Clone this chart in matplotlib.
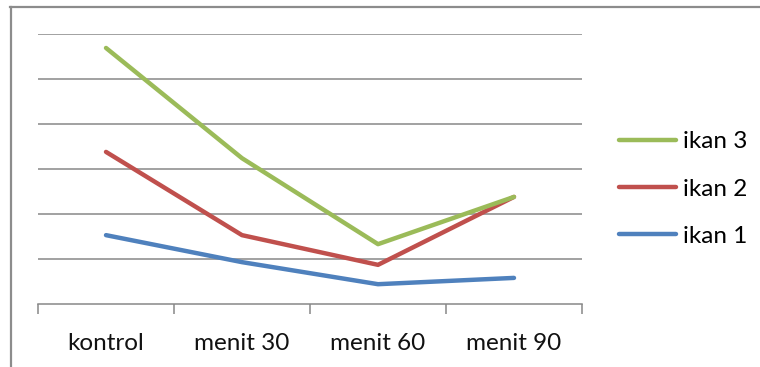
import matplotlib
matplotlib.use("Agg")
import matplotlib.pyplot as plt
from matplotlib.lines import Line2D

categories = ["kontrol", "menit 30", "menit 60", "menit 90"]
ikan1 = [1.53, 0.93, 0.44, 0.58]
ikan2 = [3.38, 1.53, 0.87, 2.38]
ikan3 = [5.69, 3.24, 1.33, 2.38]
series_names = ["ikan 1", "ikan 2", "ikan 3"]
colors = ["#4F81BD", "#C0504D", "#9BBB59"]

W, H = 760, 367
FS = 17.5
fig = plt.figure(figsize=(W / 100, H / 100), dpi=100)
plt.rcParams["font.family"] = ["Lato", "DejaVu Sans"]

# outer chart border (left and top visible)
fig.add_artist(Line2D([10.5 / W, 10.5 / W], [0, 1 - 6.5 / H], color="#8c8c8c", lw=1.6, transform=fig.transFigure))
fig.add_artist(Line2D([10 / W, 1], [1 - 6.5 / H, 1 - 6.5 / H], color="#8c8c8c", lw=1.6, transform=fig.transFigure))

left, right, top, bottom = 38, 582, 34, 304
ax = fig.add_axes([left / W, 1 - bottom / H, (right - left) / W, (bottom - top) / H])

x = list(range(len(categories)))
for vals, name, c in zip([ikan1, ikan2, ikan3], series_names, colors):
    ax.plot(x, vals, color=c, lw=3.2, solid_capstyle="round", solid_joinstyle="round", label=name, zorder=3)

ax.set_xlim(-0.5, len(categories) - 0.5)
ax.set_ylim(0, 6)
ax.set_yticks([1, 2, 3, 4, 5, 6])
ax.yaxis.grid(True, color="#888888", lw=1.1)
ax.tick_params(axis="y", left=False, labelleft=False)
for s in ["left", "right", "top"]:
    ax.spines[s].set_visible(False)
ax.spines["bottom"].set_color("#888888")
ax.spines["bottom"].set_linewidth(1.1)

ax.set_xticks([i - 0.5 for i in range(len(categories) + 1)])
ax.set_xticklabels([])
ax.tick_params(axis="x", length=7, width=1.1, color="#888888", direction="out")
for i, cat in enumerate(categories):
    ax.text(i, -0.88, cat, ha="center", va="center", fontsize=FS, color="#111111",
            transform=ax.transData, clip_on=False)

em = FS * 100 / 72
handles, labels = ax.get_legend_handles_labels()
leg = fig.legend(handles[::-1], labels[::-1], loc="center left",
                 bbox_to_anchor=(612 / W, 1 - 189 / H), frameon=False,
                 fontsize=FS, handlelength=57 / em, handletextpad=7 / em,
                 labelspacing=1.08, borderpad=0.3, borderaxespad=0)

fig.savefig("out.png", dpi=100)
